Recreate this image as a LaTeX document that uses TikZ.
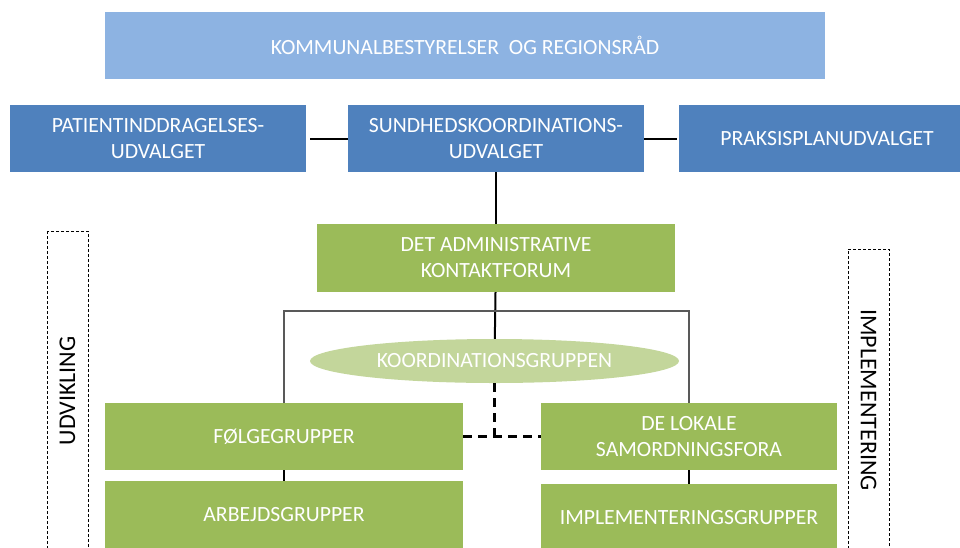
\documentclass[tikz,border=0pt]{standalone}
\usepackage{fontspec}
\setmainfont{Carlito}
\usetikzlibrary{shapes.geometric}
\definecolor{topblue}{HTML}{8DB3E2}
\definecolor{midblue}{HTML}{4F81BD}
\definecolor{leafgreen}{HTML}{9BBB59}
\definecolor{palegreen}{HTML}{C3D69B}
\tikzset{
  unitbox/.style={rectangle, fill=#1, text=white, inner sep=0pt, align=center,
    font=\fontsize{21.7}{26}\selectfont},
  oval/.style={ellipse, fill=palegreen, text=white, inner sep=0pt,
    font=\fontsize{21.7}{26}\selectfont},
  phasebox/.style={draw, line width=0.9pt, dash pattern=on 3pt off 2pt,
    inner sep=0pt, minimum height=41pt, font=\fontsize{24}{28}\selectfont},
  link/.style={line width=2pt},
  bracket/.style={line width=1.4pt, draw=black!65},
  loose/.style={line width=2.2pt, dash pattern=on 9pt off 6pt}
}
\begin{document}
\begin{tikzpicture}[x=1pt,y=-1pt]
      \clip (0,0) rectangle (960,547);
      \draw
        (465,45.5) node[unitbox=topblue, minimum width=720, minimum height=67] (kr)
          {KOMMUNALBESTYRELSER\ \ OG REGIONSRÅD}
        (158,138.5) node[unitbox=midblue, minimum width=296, minimum height=67] (pu)
          {PATIENTINDDRAGELSES-\\UDVALGET}
        (496,138.5) node[unitbox=midblue, minimum width=296, minimum height=67] (sku)
          {SUNDHEDSKOORDINATIONS-\\UDVALGET}
        (827,138.5) node[unitbox=midblue, minimum width=296, minimum height=67] (ppu)
          {PRAKSISPLANUDVALGET}
        (496,258) node[unitbox=leafgreen, minimum width=358, minimum height=68] (dak)
          {DET ADMINISTRATIVE\\KONTAKTFORUM}
        (494.5,361) node[oval, minimum width=369, minimum height=44] (kg)
          {KOORDINATIONSGRUPPEN}
        (284,436.5) node[unitbox=leafgreen, minimum width=358, minimum height=67] (fg)
          {FØLGEGRUPPER}
        (284,514.5) node[unitbox=leafgreen, minimum width=358, minimum height=67] (ag)
          {ARBEJDSGRUPPER}
        (689,436.5) node[unitbox=leafgreen, minimum width=296, minimum height=67] (lsf)
          {DE LOKALE\\SAMORDNINGSFORA}
        (689,517.5) node[unitbox=leafgreen, minimum width=296, minimum height=67] (ig)
          {IMPLEMENTERINGSGRUPPER}
        (67.5,391) node[phasebox, rotate=90, minimum width=320] (udv)
          {UDVIKLING}
        (868.5,400) node[phasebox, rotate=-90, minimum width=302] (imp)
          {IMPLEMENTERING};
      \path (496,311) coordinate (brk)
        (494.5,436.5) coordinate (junc);
      \begin{scope}[link]
        \draw[shorten <=4pt] (pu) to (sku);
        \draw[shorten >=2pt] (sku) to (ppu);
        \draw (sku) to (dak);
        \draw (dak) to (kg);
        \draw (fg) to (ag);
        \draw (lsf) to (ig);
      \end{scope}
      \draw[bracket] (fg.north) |- (brk) -| (lsf.north);
      \begin{scope}[loose]
        \draw (kg.south) to (junc);
        \draw (fg) to (lsf);
      \end{scope}
    \end{tikzpicture}
\end{document}
